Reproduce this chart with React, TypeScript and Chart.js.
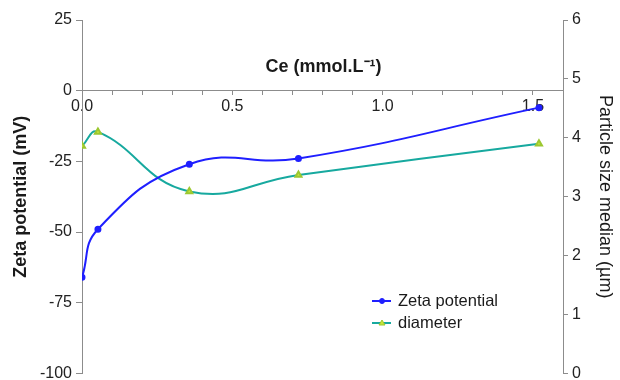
import React, { useEffect, useRef } from "react";
import { Chart, registerables } from "chart.js";

Chart.register(...registerables);

const ceValues = [0.0, 0.053, 0.357, 0.72, 1.52];
const zetaValues = [-66, -49, -26, -24, -6];
const diameterValues = [3.86, 4.1, 3.09, 3.37, 3.9];
const zetaTicks = [-100, -75, -50, -25, 0, 25];
const sizeTicks = [0, 1, 2, 3, 4, 5, 6];
const xLabelTicks = [0.0, 0.5, 1.0, 1.5];

const FONT = "'Liberation Sans', Arial, sans-serif";
const BLUE = "#1f1fff";
const TEAL = "#17a99f";
const TRI = "#c6e43a";
const AXIS = "#8c8c8c";

const overlayPlugin = {
  id: "overlay",
  afterDraw(chart: any) {
    const ctx = chart.ctx;
    const area = chart.chartArea;
    ctx.save();
    // x axis title
    ctx.font = `bold 18px ${FONT}`;
    ctx.fillStyle = "#1a1a1a";
    ctx.textBaseline = "alphabetic";
    ctx.textAlign = "center";
    ctx.fillText("Ce (mmol.L\u207B\u00B9)", (area.left + area.right) / 2 + 1, 72);
    // legend
    const lx = 372;
    const ly = 301;
    chart.data.datasets.forEach((ds: any, i: number) => {
      const y = ly + i * 22;
      ctx.strokeStyle = ds.borderColor;
      ctx.lineWidth = 2;
      ctx.beginPath();
      ctx.moveTo(lx, y);
      ctx.lineTo(lx + 19, y);
      ctx.stroke();
      ctx.fillStyle = ds.pointBackgroundColor;
      ctx.strokeStyle = ds.pointBorderColor;
      ctx.lineWidth = 1;
      ctx.beginPath();
      if (ds.pointStyle === "triangle") {
        ctx.moveTo(lx + 10, y - 3);
        ctx.lineTo(lx + 13, y + 2);
        ctx.lineTo(lx + 7, y + 2);
        ctx.closePath();
      } else {
        ctx.arc(lx + 10, y, 2.5, 0, Math.PI * 2);
      }
      ctx.fill();
      ctx.stroke();
      ctx.fillStyle = "#1a1a1a";
      ctx.font = `16.5px ${FONT}`;
      ctx.textAlign = "left";
      ctx.textBaseline = "middle";
      ctx.fillText(ds.label, lx + 26, y);
    });
    ctx.restore();
  },
};

export default function App() {
  const canvasRef = useRef<HTMLCanvasElement>(null);

  useEffect(() => {
    if (!canvasRef.current) return;
    const chart = new Chart(canvasRef.current, {
      type: "line",
      data: {
        datasets: [
          {
            label: "Zeta potential",
            data: ceValues.map((x, i) => ({ x, y: zetaValues[i] })),
            yAxisID: "y",
            borderColor: BLUE,
            backgroundColor: BLUE,
            pointBackgroundColor: BLUE,
            pointBorderColor: BLUE,
            pointStyle: "circle",
            pointRadius: 2.5,
            borderWidth: 2,
            tension: 0.45,
            fill: false,
          },
          {
            label: "diameter",
            data: ceValues.map((x, i) => ({ x, y: diameterValues[i] })),
            yAxisID: "y1",
            borderColor: TEAL,
            backgroundColor: TEAL,
            pointBackgroundColor: TRI,
            pointBorderColor: "#9cc830",
            pointStyle: "triangle",
            pointRadius: 3.5,
            borderWidth: 2,
            tension: 0.45,
            fill: false,
          },
        ],
      },
      options: {
        animation: false,
        responsive: true,
        maintainAspectRatio: false,
        layout: { padding: { top: 20, bottom: 0, left: 0, right: 0 } },
        plugins: {
          legend: { display: false },
          tooltip: { enabled: false },
        },
        scales: {
          x: {
            type: "linear",
            position: { y: 0 } as any,
            min: 0,
            max: 1.6,
            border: { color: AXIS, width: 1 },
            grid: {
              drawOnChartArea: false,
              drawTicks: true,
              tickLength: 4,
              color: AXIS,
            },
            ticks: {
              stepSize: 0.1,
              autoSkip: false,
              maxRotation: 0,
              padding: 2,
              color: "#222",
              font: { family: FONT, size: 16 },
              callback: (v: any) => {
                const n = Number(v);
                const hit = xLabelTicks.find((t) => Math.abs(t - n) < 1e-6);
                return hit !== undefined ? hit.toFixed(1) : "";
              },
            },
          },
          y: {
            type: "linear",
            position: "left",
            min: zetaTicks[0],
            max: zetaTicks[zetaTicks.length - 1],
            afterFit: (s: any) => {
              s.width = 82;
            },
            afterBuildTicks: (s: any) => {
              s.ticks = zetaTicks.map((v) => ({ value: v }));
            },
            border: { color: AXIS, width: 1 },
            grid: { drawOnChartArea: false, tickLength: 6, color: AXIS },
            title: {
              display: true,
              text: "Zeta potential (mV)",
              color: "#1a1a1a",
              font: { family: FONT, size: 18, weight: "bold" },
              padding: { top: 10, bottom: 0 },
            },
            ticks: {
              color: "#222",
              padding: 4,
              font: { family: FONT, size: 16 },
            },
          },
          y1: {
            type: "linear",
            position: "right",
            min: sizeTicks[0],
            max: sizeTicks[sizeTicks.length - 1],
            afterFit: (s: any) => {
              s.width = 57;
            },
            afterBuildTicks: (s: any) => {
              s.ticks = sizeTicks.map((v) => ({ value: v }));
            },
            border: { color: AXIS, width: 1 },
            grid: { drawOnChartArea: false, tickLength: 5, color: AXIS },
            title: {
              display: true,
              text: "Particle size median (\u00B5m)",
              color: "#1a1a1a",
              font: { family: FONT, size: 18 },
              padding: { top: 4, bottom: 0 },
            },
            ticks: {
              color: "#222",
              padding: 4,
              font: { family: FONT, size: 16 },
            },
          },
        },
      },
      plugins: [overlayPlugin],
    });
    return () => chart.destroy();
  }, []);

  return (
    <div style={{ position: "absolute", left: 0, top: 0, width: 620, height: 380, overflow: "hidden", background: "#fff" }}>
      <div style={{ position: "relative", width: 620, height: 387 }}>
        <canvas ref={canvasRef} />
      </div>
    </div>
  );
}
